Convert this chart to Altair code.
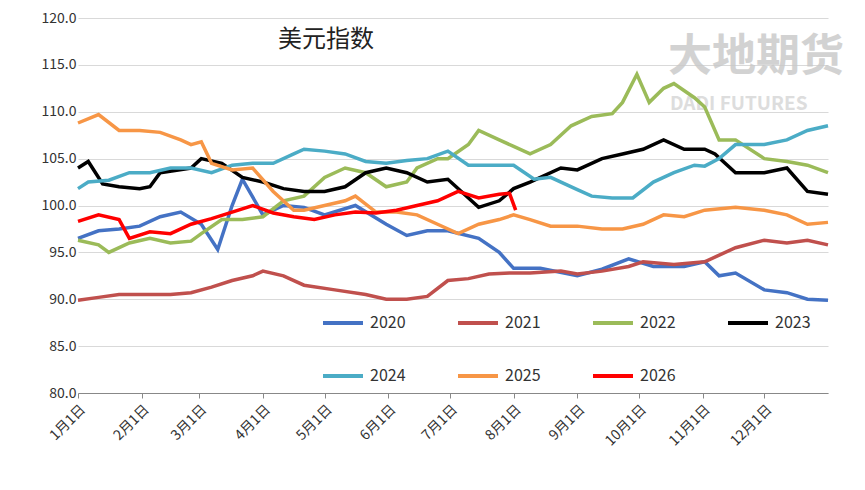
import altair as alt
import pandas as pd

years = ["2020", "2021", "2022", "2023", "2024", "2025", "2026"]
colors = ["#4472C4", "#C0504D", "#9BBB59", "#000000", "#4BACC6", "#F79646", "#FF0000"]

s2020 = [(0, 96.5), (10, 97.3), (20, 97.5), (30, 97.8), (40, 98.8), (50, 99.3), (60, 98), (68, 95.3), (75, 100), (80, 102.8), (90, 99), (100, 100), (110, 99.8), (120, 99), (135, 100), (150, 98), (160, 96.8), (170, 97.3), (180, 97.3), (195, 96.5), (205, 95), (212, 93.3), (225, 93.3), (243, 92.5), (255, 93.2), (268, 94.3), (280, 93.5), (295, 93.5), (305, 94), (312, 92.5), (320, 92.8), (334, 91), (345, 90.7), (355, 90), (365, 89.9)]
s2021 = [(0, 89.9), (10, 90.2), (20, 90.5), (30, 90.5), (45, 90.5), (55, 90.7), (65, 91.3), (75, 92), (85, 92.5), (90, 93), (100, 92.5), (110, 91.5), (125, 91), (140, 90.5), (150, 90), (160, 90), (170, 90.3), (180, 92), (190, 92.2), (200, 92.7), (210, 92.8), (220, 92.8), (235, 93), (243, 92.7), (255, 93), (268, 93.5), (275, 94), (290, 93.7), (305, 94), (320, 95.5), (334, 96.3), (345, 96), (355, 96.3), (365, 95.8)]
s2022 = [(0, 96.3), (10, 95.8), (15, 95), (25, 96), (35, 96.5), (45, 96), (55, 96.2), (60, 97), (70, 98.5), (80, 98.5), (90, 98.8), (100, 100.5), (110, 101), (120, 103), (130, 104), (140, 103.5), (150, 102), (160, 102.5), (165, 104), (175, 105), (180, 105), (190, 106.5), (195, 108), (205, 107), (212, 106.3), (220, 105.5), (230, 106.5), (240, 108.5), (250, 109.5), (260, 109.8), (265, 111), (272, 114), (278, 111), (285, 112.5), (290, 113), (300, 111.5), (305, 110.5), (312, 107), (320, 107), (334, 105), (345, 104.7), (355, 104.3), (365, 103.5)]
s2023 = [(0, 104), (5, 104.7), (12, 102.3), (20, 102), (30, 101.8), (35, 102), (40, 103.5), (55, 104), (60, 105), (70, 104.5), (80, 103), (90, 102.5), (100, 101.8), (110, 101.5), (120, 101.5), (130, 102), (140, 103.5), (150, 104), (160, 103.5), (170, 102.5), (180, 102.8), (195, 99.8), (205, 100.5), (212, 101.8), (220, 102.5), (235, 104), (243, 103.8), (255, 105), (265, 105.5), (275, 106), (285, 107), (295, 106), (305, 106), (310, 105.5), (320, 103.5), (334, 103.5), (345, 104), (355, 101.5), (365, 101.2)]
s2024 = [(0, 101.8), (5, 102.5), (15, 102.7), (25, 103.5), (35, 103.5), (45, 104), (55, 104), (65, 103.5), (75, 104.3), (85, 104.5), (95, 104.5), (105, 105.5), (110, 106), (120, 105.8), (130, 105.5), (140, 104.7), (150, 104.5), (160, 104.8), (170, 105), (180, 105.8), (190, 104.3), (200, 104.3), (212, 104.3), (222, 102.8), (230, 103), (243, 101.7), (250, 101), (260, 100.8), (270, 100.8), (280, 102.5), (290, 103.5), (300, 104.3), (305, 104.2), (312, 105), (320, 106.5), (334, 106.5), (345, 107), (355, 108), (365, 108.5)]
s2025 = [(0, 108.8), (10, 109.7), (20, 108), (30, 108), (40, 107.8), (50, 107), (55, 106.5), (60, 106.8), (65, 104.5), (75, 103.8), (85, 104), (95, 101.5), (105, 99.5), (110, 99.5), (120, 100), (130, 100.5), (135, 101), (145, 99.3), (155, 99.3), (165, 99), (175, 98), (185, 97), (195, 98), (205, 98.5), (212, 99), (220, 98.5), (230, 97.8), (243, 97.8), (255, 97.5), (265, 97.5), (275, 98), (285, 99), (295, 98.8), (305, 99.5), (320, 99.8), (334, 99.5), (345, 99), (355, 98), (365, 98.2)]
s2026 = [(0, 98.3), (10, 99), (20, 98.5), (25, 96.5), (35, 97.2), (45, 97), (55, 98), (65, 98.6), (75, 99.3), (85, 100), (95, 99.2), (105, 98.8), (115, 98.5), (125, 99), (135, 99.3), (145, 99.2), (155, 99.5), (165, 100), (175, 100.5), (185, 101.5), (195, 100.8), (205, 101.2), (210, 101.3), (213, 99.5)]

month_days = [0, 31, 59, 90, 120, 151, 181, 212, 243, 273, 304, 334]
month_labels = ["1月1日", "2月1日", "3月1日", "4月1日", "5月1日", "6月1日", "7月1日", "8月1日", "9月1日", "10月1日", "11月1日", "12月1日"]

# legend slots (pixel positions inside the plot area)
leg_x = [245, 380, 515, 650, 245, 380, 515]
leg_y = [305, 305, 305, 305, 358, 358, 358]

rows = []
for yr, ser in zip(years, [s2020, s2021, s2022, s2023, s2024, s2025, s2026]):
    for d, v in ser:
        rows.append({"year": yr, "day": d, "value": v})
df = pd.DataFrame(rows)

leg = pd.DataFrame({"year": years, "x": leg_x, "y": leg_y})
leg["x2"] = leg["x"] + 40
leg["tx"] = leg["x"] + 47

label_map = "{" + ",".join(f"'{d}':'{l}'" for d, l in zip(month_days, month_labels)) + "}"
font = "Noto Sans CJK SC"
cscale = alt.Scale(domain=years, range=colors)

lines = alt.Chart(df).mark_line(strokeWidth=3.5).encode(
    x=alt.X("day:Q", scale=alt.Scale(domain=[0, 365], nice=False),
            axis=alt.Axis(values=month_days, labelExpr=f"{label_map}[datum.value]", labelAngle=-45,
                          labelFontSize=14, labelFont=font, labelColor="#333", grid=False,
                          title=None, domainColor="#888", tickColor="#888", labelPadding=4)),
    y=alt.Y("value:Q", scale=alt.Scale(domain=[80, 120], nice=False),
            axis=alt.Axis(values=list(range(80, 121, 5)), format=".1f", labelFontSize=14,
                          labelFont=font, labelColor="#333", gridColor="#d9d9d9", domain=False,
                          ticks=False, title=None)),
    color=alt.Color("year:N", scale=cscale, legend=None),
)

leg_lines = alt.Chart(leg).mark_rule(strokeWidth=4).encode(
    x=alt.X("x:Q", scale=None), x2="x2:Q", y=alt.Y("y:Q", scale=None),
    color=alt.Color("year:N", scale=cscale, legend=None),
)
leg_text = alt.Chart(leg).mark_text(fontSize=16, font=font, align="left", baseline="middle", color="#333").encode(
    x=alt.X("tx:Q", scale=None), y=alt.Y("y:Q", scale=None), text="year:N"
)

title = alt.Chart(pd.DataFrame({"t": ["美元指数"]})).mark_text(
    fontSize=24, font=font, align="left", color="#222"
).encode(x=alt.value(200), y=alt.value(22), text="t:N")

wm = alt.Chart(pd.DataFrame({"t": ["大地期货"]})).mark_text(
    fontSize=44, font=font, align="left", color="#c8c8c8", fontWeight="bold", opacity=0.8
).encode(x=alt.value(590), y=alt.value(40), text="t:N")
wm2 = alt.Chart(pd.DataFrame({"t": ["DADI FUTURES"]})).mark_text(
    fontSize=19, font=font, align="left", color="#d5d5d5", fontWeight="bold", opacity=0.8
).encode(x=alt.value(592), y=alt.value(86), text="t:N")

chart = alt.layer(wm, wm2, lines, leg_lines, leg_text, title).properties(
    width=750, height=375, autosize=alt.AutoSizeParams(type="none"),
    padding={"left": 70, "top": 10, "right": 20, "bottom": 80}
).configure_view(stroke=None)

chart.save("out.html", embed_options={"renderer": "svg", "actions": False})
